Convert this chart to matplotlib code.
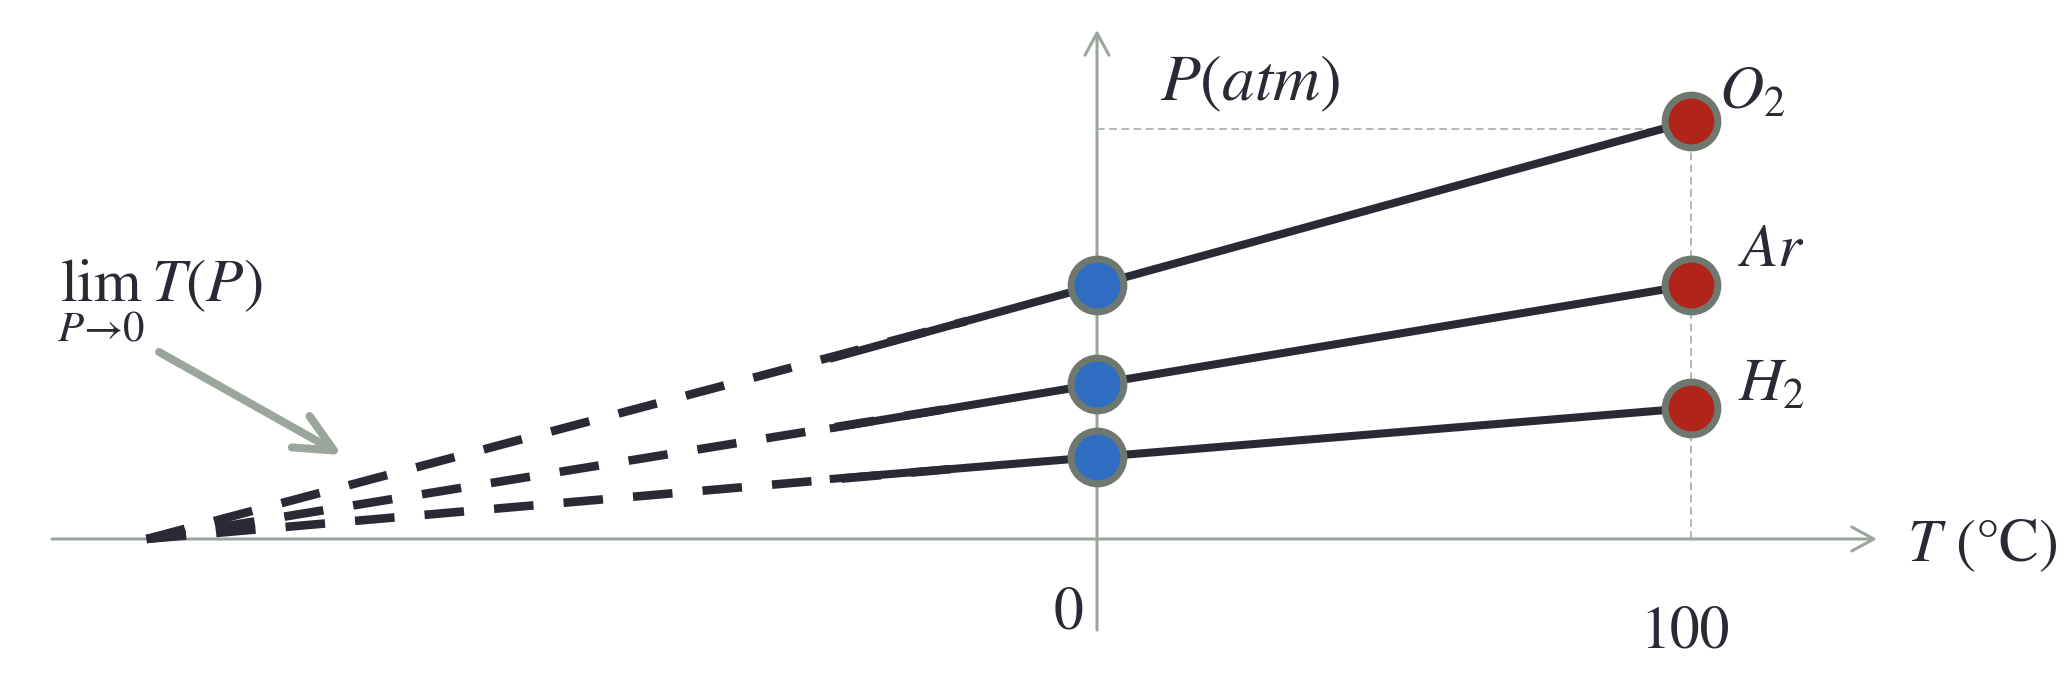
import numpy as np
import matplotlib
matplotlib.use("Agg")
import matplotlib.pyplot as plt
from matplotlib.patches import FancyArrowPatch
from matplotlib.patches import ArrowStyle

plt.rcParams['font.family'] = ['STIXGeneral', 'DejaVu Serif']
plt.rcParams['mathtext.fontset'] = 'stix'

# ---- data ----
gases = ['$O_2$', '$Ar$', '$H_2$']
T_points = [0, 100]
P_at_0 = [2.54, 1.55, 0.82]
P_at_100 = [4.18, 2.54, 1.31]
T_zero = -160          # extrapolated temperature where P -> 0
T_solid_start = -45    # where measured (solid) lines begin
T_dash_end = -22       # where the extrapolation (dashed) ends
tick_T = [0, 100]
tick_labels = ['0', '100']
guide_P = 4.10

DARK = '#2a2a35'
GRAY = '#9aa69c'
RED = '#b0241a'
BLUE = '#2f6dc2'
EDGE = '#6e786e'

fig = plt.figure(figsize=(20.72, 6.84), dpi=100)
ax = fig.add_axes([0, 0, 1, 1])
ax.set_xlim(-184.68, 164.14)
ax.set_ylim(-1.45, 5.39)
ax.axis('off')

PX = 100 / 72.0  # pixels per point

# axes with open arrowheads
ax_style = ArrowStyle('->', head_length=22 / PX, head_width=12 / PX)
ax.add_patch(FancyArrowPatch((-175.9, 0), (131.3, 0), arrowstyle=ax_style,
                             mutation_scale=1, color=GRAY, lw=2.2, zorder=1,
                             shrinkA=0, shrinkB=0))
ax.add_patch(FancyArrowPatch((0, -0.91), (0, 5.09), arrowstyle=ax_style,
                             mutation_scale=1, color=GRAY, lw=2.2, zorder=1,
                             shrinkA=0, shrinkB=0))

# guide lines
ax.plot([0, 100], [guide_P, guide_P], color=GRAY, lw=1.1, ls=(0, (5, 3)), zorder=1)
ax.plot([100, 100], [0, guide_P], color=GRAY, lw=1.1, ls=(0, (5, 3)), zorder=1)

# lines
for p0, p100 in zip(P_at_0, P_at_100):
    coef = np.polyfit(T_points, [p0, p100], 1)
    ax.plot([T_solid_start, 100], np.polyval(coef, [T_solid_start, 100]),
            color=DARK, lw=5.8, solid_capstyle='butt', zorder=3)
    ax.plot([T_zero, T_dash_end], [0, np.polyval(coef, T_dash_end)],
            color=DARK, lw=6.2, ls=(0, (4.6, 3.5)), dash_capstyle='butt', zorder=3)

# markers
ax.plot([0] * 3, P_at_0, 'o', ms=38, mfc=BLUE, mec=EDGE, mew=5, zorder=5, ls='none')
ax.plot([100] * 3, P_at_100, 'o', ms=38, mfc=RED, mec=EDGE, mew=5, zorder=5, ls='none')

# gas labels
label_pos = [(110.3, 4.44), (113.5, 2.87), (113.5, 1.52)]
for g, (tx, py) in zip(gases, label_pos):
    ax.text(tx, py, g, fontsize=44, color=DARK, ha='center', va='center')

# tick labels
ax.text(-4.8, -0.75, tick_labels[0], fontsize=43, color=DARK, ha='center', va='center')
ax.text(99.0, -0.94, tick_labels[1], fontsize=43, color=DARK, ha='center', va='center')

# axis titles
ax.text(25.8, 4.55, '$P(atm)$', fontsize=47, color=DARK, ha='center', va='center')
ax.text(149.0, -0.07, '$T$ (°C)', fontsize=43, color=DARK, ha='center', va='center')

# limit label and arrow
ax.text(-157.7, 2.38, r'$\lim_{P\to 0}\,T(P)$', fontsize=44, color=DARK,
        ha='center', va='center')
lim_style = ArrowStyle('->', head_length=38 / PX, head_width=18 / PX)
ax.add_patch(FancyArrowPatch((-157.9, 1.87), (-127.1, 0.84), arrowstyle=lim_style,
                             mutation_scale=1, color=GRAY, lw=5.8, zorder=2,
                             shrinkA=0, shrinkB=0, capstyle='round', joinstyle='round'))

fig.savefig('out.png', dpi=100)
